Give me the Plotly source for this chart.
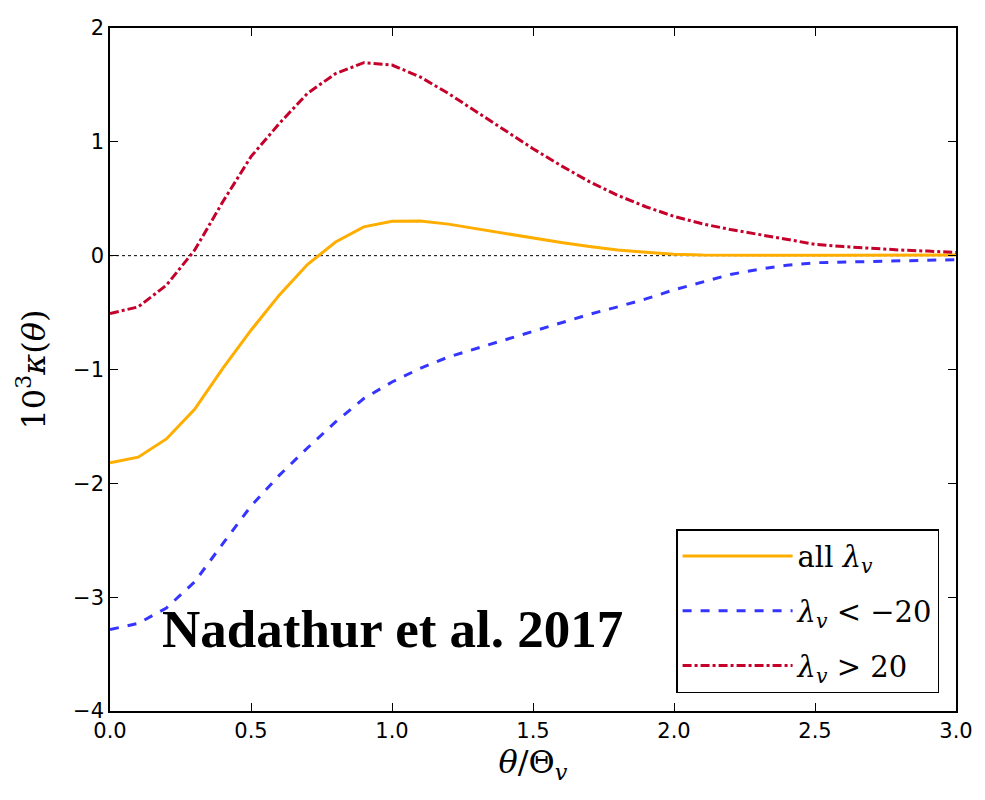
import plotly.graph_objects as go

theta = [round(0.1 * i, 1) for i in range(31)]

kappa_all = [-1.82, -1.77, -1.61, -1.35, -0.99, -0.655, -0.347, -0.078, 0.12, 0.253,
             0.303, 0.305, 0.277, 0.235, 0.195, 0.155, 0.115, 0.08, 0.05, 0.03,
             0.013, 0.006, 0.004, 0.003, 0.003, 0.003, 0.003, 0.004, 0.004, 0.005, 0.005]

kappa_neg = [-3.285, -3.23, -3.095, -2.866, -2.53, -2.20, -1.93, -1.69, -1.46, -1.255,
             -1.11, -0.99, -0.89, -0.815, -0.74, -0.665, -0.585, -0.515, -0.45, -0.38,
             -0.30, -0.23, -0.165, -0.12, -0.085, -0.062, -0.055, -0.05, -0.045, -0.04, -0.036]

kappa_pos = [-0.508, -0.45, -0.26, 0.048, 0.473, 0.87, 1.16, 1.425, 1.60, 1.695,
             1.675, 1.57, 1.425, 1.265, 1.10, 0.94, 0.79, 0.65, 0.53, 0.43,
             0.345, 0.28, 0.23, 0.185, 0.145, 0.10, 0.08, 0.063, 0.05, 0.04, 0.028]

names = ["all <i>λ<sub>v</sub></i>", "<i>λ<sub>v</sub></i> < −20", "<i>λ<sub>v</sub></i> > 20"]
colors = ["#FFAE00", "#3535FF", "#C4002B"]
dashes = ["solid", "dash", "dashdot"]

fig = go.Figure()
for i, (ys, nm, c, d) in enumerate(zip([kappa_all, kappa_neg, kappa_pos], names, colors, dashes)):
    fig.add_trace(go.Scatter(x=theta, y=ys, mode="lines", name=nm, legendgroup=f"g{i}",
                             line=dict(color=c, width=3, dash=d)))

fig.add_hline(y=0, line=dict(color="black", width=1, dash="dot"), layer="below")

fig.add_annotation(text="<b>Nadathur et al. 2017</b>", x=0.334, y=0.075,
                   xref="paper", yref="paper", showarrow=False,
                   font=dict(family="Liberation Serif", size=53, color="black"))

axis_common = dict(showline=True, linecolor="black", linewidth=1.5, mirror="ticks",
                   ticks="inside", ticklen=8, tickwidth=1, tickcolor="black",
                   showgrid=False, zeroline=False,
                   tickfont=dict(family="DejaVu Sans", size=21, color="black"))

fig.update_layout(
    width=985, height=800,
    margin=dict(l=110, r=25, t=28, b=89),
    plot_bgcolor="white", paper_bgcolor="white",
    xaxis=dict(range=[0, 3], tickvals=[0, 0.5, 1.0, 1.5, 2.0, 2.5, 3.0],
               ticktext=["0.0", "0.5", "1.0", "1.5", "2.0", "2.5", "3.0"],
               title=dict(text="<i>θ</i>/Θ<sub><i>v</i></sub>",
                          font=dict(family="DejaVu Serif", size=32, color="black"),
                          standoff=4),
               **axis_common),
    yaxis=dict(range=[-4, 2], tickvals=[-4, -3, -2, -1, 0, 1, 2],
               title=dict(text="10<sup>3</sup><i>κ</i>(<i>θ</i>)",
                          font=dict(family="DejaVu Serif", size=32, color="black"),
                          standoff=18),
               **axis_common),
    legend=dict(x=0.98, y=0.026, xanchor="right", yanchor="bottom",
                bgcolor="white", bordercolor="black", borderwidth=1.5,
                font=dict(family="DejaVu Serif", size=29, color="black"),
                itemwidth=110, tracegroupgap=14, traceorder="grouped"),
    showlegend=True,
)

fig.write_html("out.html")
